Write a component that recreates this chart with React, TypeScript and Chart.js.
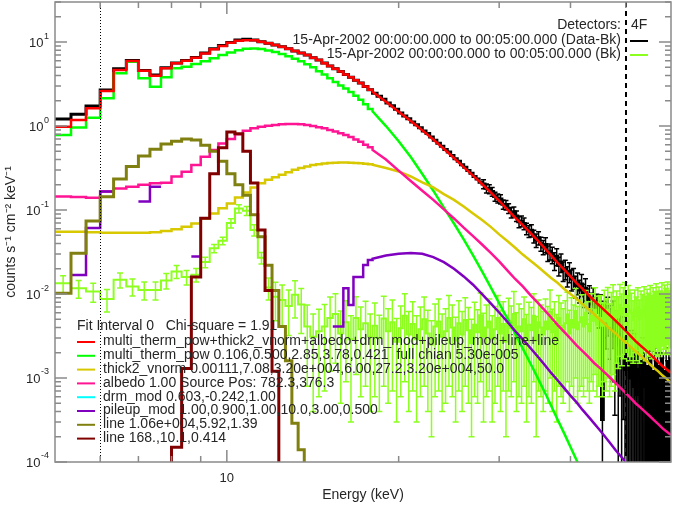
import React, { useEffect, useRef } from 'react';
import { Chart, registerables } from 'chart.js';

Chart.register(...registerables);

const FONT = "'Liberation Sans', Arial, Helvetica, sans-serif";
const TEXT_COLOR = '#262626';
const AXIS_COLOR = '#8a8a8a';

// ---------- axes ----------
const X_RANGE = [5, 60];
const Y_RANGE = [1e-4, 30];
const X_MAJOR_TICKS = [10];
const X_MINOR_TICKS = [6, 7, 8, 9, 20, 30, 40, 50];
const X_TICK_LABELS = ['10'];
const Y_DECADES = [-4, -3, -2, -1, 0, 1];
const FIT_RANGE = [6, 50];

// ---------- energy binning (keV) ----------
const BIN_START = 5;
const BIN_WIDTH = 1 / 3;
const N_BINS = 165;
const DATA_EDGES = Array.from({ length: N_BINS + 1 }, (_, i) => BIN_START + i * BIN_WIDTH);
const MODEL_LOW_EDGES = DATA_EDGES.slice(0, 40); // 5 .. 18 keV, 1/3 keV bins
const MODEL_HIGH_E = [18, 19, 20, 21, 22, 23, 24, 25, 26, 27, 28, 29, 30, 31, 32, 33, 34, 35, 36, 37, 38,
  39, 40, 41, 42, 43, 44, 45, 46, 47, 48, 49, 50, 51, 52, 53, 54, 55, 56, 57, 58, 59, 60];

// ---------- model components: 1/3 keV bins 5-18 keV, then 1 keV points 18-60 keV ----------
const TOTAL_LOW = [0.98, 1.18, 1.63, 2.62, 4.65, 5.96, 4.56, 3.98, 4.88, 5.59, 6.0, 6.5, 7.3, 8.2, 9.0, 9.8,
  10.4, 10.5, 10.5, 10.1, 9.7, 9.2, 8.8, 8.3, 7.85, 7.4, 7.0, 6.5, 6.1, 5.6, 5.2, 4.8, 4.45, 4.1, 3.8, 3.5,
  3.25, 2.95, 2.7];
const TOTAL_HIGH = [2.56, 1.95, 1.48, 1.15, 0.891, 0.692, 0.537, 0.417, 0.324, 0.257, 0.204, 0.162, 0.129,
  0.102, 0.0813, 0.0661, 0.0537, 0.0437, 0.0355, 0.0288, 0.0234, 0.0195, 0.0162, 0.0135, 0.0115, 0.00977,
  0.00832, 0.00724, 0.00631, 0.0055, 0.00479, 0.00417, 0.00363, 0.00316, 0.00275, 0.00245, 0.00219,
  0.00195, 0.00174, 0.00155, 0.00138, 0.00126, 0.00115];

const THERM_LOW = [0.78, 0.96, 1.26, 2.14, 4.25, 5.83, 3.71, 2.94, 3.81, 4.88, 5.09, 5.5, 5.9, 6.4, 7.0, 7.5,
  8.0, 8.3, 8.4, 8.25, 7.95, 7.6, 7.2, 6.8, 6.35, 5.9, 5.45, 5.0, 4.5, 4.1, 3.7, 3.35, 3.05, 2.8, 2.55, 2.3,
  2.05, 1.82, 1.6];
const THERM_HIGH = [1.5, 1.0, 0.661, 0.427, 0.269, 0.17, 0.107, 0.0692, 0.0447, 0.0288, 0.0186, 0.012,
  0.00776, 0.00513, 0.00339, 0.00224, 0.00151, 0.00102, 6.92e-4, 4.68e-4, 3.16e-4, 2.19e-4, 1.51e-4,
  1.05e-4, 7.2e-5, null, null, null, null, null, null, null, null, null, null, null, null, null, null, null,
  null, null, null];

const THICK_LOW = [0.055, 0.055, 0.0543, 0.0537, 0.0537, 0.0537, 0.0537, 0.0543, 0.0562, 0.0589, 0.0631,
  0.0692, 0.0794, 0.0912, 0.105, 0.12, 0.141, 0.162, 0.186, 0.209, 0.229, 0.245, 0.263, 0.282, 0.302,
  0.316, 0.331, 0.343, 0.351, 0.359, 0.363, 0.366, 0.367, 0.367, 0.366, 0.363, 0.36, 0.355, 0.351];
const THICK_HIGH = [0.347, 0.316, 0.288, 0.251, 0.214, 0.186, 0.155, 0.132, 0.11, 0.0912, 0.0759, 0.0631,
  0.0513, 0.0427, 0.0355, 0.0295, 0.0251, 0.0214, 0.0182, 0.0155, 0.0135, 0.0115, 0.01, 0.00871, 0.00759,
  0.00661, 0.00575, 0.00501, 0.00437, 0.0038, 0.00339, 0.00295, 0.00263, 0.00234, 0.00209, 0.00186,
  0.00166, 0.00148, 0.00132, 0.0012, 0.00107, 9.77e-4, 8.71e-4];

const ALBEDO_LOW = [0.145, 0.143, 0.14, 0.166, 0.18, 0.19, 0.2, 0.208, 0.212, 0.25, 0.286, 0.344, 0.43,
  0.52, 0.62, 0.7, 0.8, 0.88, 0.94, 0.98, 1.01, 1.03, 1.05, 1.06, 1.06, 1.05, 1.03, 1.0, 0.97, 0.94, 0.9,
  0.86, 0.82, 0.78, 0.74, 0.69, 0.65, 0.6, 0.56];
const ALBEDO_HIGH = [0.52, 0.4, 0.295, 0.222, 0.17, 0.132, 0.102, 0.0794, 0.0617, 0.049, 0.0389, 0.0309,
  0.0245, 0.0191, 0.0151, 0.0123, 0.00977, 0.00794, 0.00646, 0.00525, 0.00427, 0.00355, 0.00295, 0.00245,
  0.00209, 0.00178, 0.00151, 0.00132, 0.00115, 0.001, 8.71e-4, 7.59e-4, 6.61e-4, 5.75e-4, 5.01e-4,
  4.47e-4, 3.98e-4, 3.55e-4, 3.16e-4, 2.82e-4, 2.51e-4, 2.29e-4, 2.09e-4];

const PILEUP_LOW = [null, 0.0169, 0.061, 0.166, null, null, 0.126, 0.19, null, null, null, 0.028, null, null,
  null, null, null, null, null, null, null, null, null, null, null, null, null, null, null, null, null,
  0.0041, 0.0041, 0.0117, 0.0074, 0.016, 0.016, 0.0222, 0.0255];
const PILEUP_HIGH = [0.0263, 0.0288, 0.0302, 0.0309, 0.0302, 0.0275, 0.024, 0.02, 0.0162, 0.0129, 0.01,
  0.00776, 0.00603, 0.00468, 0.00363, 0.00288, 0.00229, 0.00182, 0.00145, 0.00115, 9.33e-4, 7.59e-4,
  6.17e-4, 5.13e-4, 4.17e-4, 3.47e-4, 2.88e-4, 2.4e-4, 2.0e-4, 1.66e-4, 1.38e-4, 1.17e-4, 1.0e-4, 8.3e-5,
  null, null, null, null, null, null, null, null, null];

const LINE1_LOW = [0.0102, 0.0306, 0.074, 0.144, 0.235, 0.33, 0.44, 0.53, 0.61, 0.66, 0.7, 0.68, 0.59, 0.5,
  0.38, 0.27, 0.2, 0.15, 0.088, 0.048, 0.022, 0.011, 0.0041, 0.0016, 2.9e-4, 1.4e-4, 1e-6, null, null, null,
  null, null, null, null, null, null, null, null, null];
const LINE2_LOW = [null, null, null, null, null, null, null, null, 1e-6, 1.5e-4, 1.3e-3, 0.016, 0.08, 0.27,
  0.55, 0.85, 0.81, 0.5, 0.21, 0.058, 0.011, 1.2e-3, 1e-6, null, null, null, null, null, null, null, null,
  null, null, null, null, null, null, null, null];

// ---------- data (Data-Bk) and background, 1/3 keV bins 5-60 keV ----------
const DATA_VALUES = [1.21, 1.38, 1.73, 2.68, 4.8, 6.05, 4.6, 4.05, 4.95, 5.65, 6.05, 6.55, 7.4, 8.3, 9.1, 9.9,
  10.6, 10.8, 10.6, 10.1, 9.7, 9.2, 8.8, 8.35, 7.85, 7.4, 7.0, 6.5, 6.1, 5.65, 5.2, 4.8, 4.45, 4.1, 3.8,
  3.5, 3.25, 2.95, 2.7,
  2.45, 2.26, 2.09, 1.88, 1.74, 1.58, 1.43, 1.32, 1.22, 1.12, 1.035, 0.955, 0.871, 0.813, 0.741, 0.676,
  0.624, 0.575, 0.525, 0.49, 0.447, 0.407, 0.38, 0.347, 0.324, 0.295, 0.275, 0.251, 0.234, 0.214,
  0.204, 0.182, 0.178, 0.166, 0.145, 0.138, 0.135, 0.117, 0.115, 0.105, 0.0933, 0.0955, 0.0851, 0.0724,
  0.0741, 0.0692, 0.0603, 0.0562, 0.0575, 0.049, 0.0437, 0.0468, 0.0398, 0.0363, 0.0389, 0.0309, 0.0324,
  0.0295, 0.0251, 0.0282, 0.0219, 0.024, 0.0191, 0.02, 0.0166, 0.0186, 0.0151, 0.0158, 0.0126, 0.0138,
  0.0112, 0.0132, 0.01, 0.0117, 0.00871, 0.00955, 0.00759, 0.00891,
  0.00692, 0.00794, 0.00603, 0.00741, 3.2e-4, 0.00562, 0.00501, 0.00617, 0.00447, 0.0038, 0.00525,
  0.00316, 0.00355, 0.00251, 0.00331, 0.002, 0.00282, 0.00126, 0.0024, 0.00141, 0.001, 0.00178, 7.9e-4,
  0.00158, 6.3e-4, 0.00126, 0.001, 5e-4, 0.00141, 7.9e-4, 0.001, 4e-4, 0.00112, 6.3e-4, 8.9e-4, 3.2e-4,
  0.001, 5e-4, 7.9e-4, 4e-4, 0.00112, 6.3e-4, 7.9e-4, 3.2e-4, 0.001, 5e-4, 7.9e-4, 6.3e-4];
const DATA_ERRORS = [null, null, null, null, null, null, null, null, null, null, null, null, null, null,
  null, null, null, null, null, null, null, null, null, null, null, null, null, null, null, null, null, null,
  null, null, null, null, null, null, null,
  null, null, null, null, null, null, null, null, null, null, null, null, null, null, null, null, null, null,
  null, null, null, null, null, null, null, null, null, null, null, null,
  0.025, 0.022, 0.022, 0.02, 0.018, 0.017, 0.017, 0.015, 0.015, 0.014, 0.013, 0.013, 0.012, 0.011, 0.011,
  0.011, 0.0095, 0.009, 0.0095, 0.0085, 0.008, 0.0085, 0.0075, 0.007, 0.0078, 0.0065, 0.007, 0.0065,
  0.006, 0.0065, 0.0055, 0.006, 0.005, 0.0052, 0.0045, 0.005, 0.0042, 0.0044, 0.0037, 0.004, 0.0034,
  0.0039, 0.0031, 0.0035, 0.0028, 0.003, 0.0026, 0.0029,
  0.0018, 0.002, 0.0021, 0.0024, 3e-4, 0.0026, 0.0028, 0.003, 0.0028, 0.0029, 0.003, 0.0028, 0.0027,
  0.0025, 0.0027, 0.0023, 0.0025, 0.0018, 0.0023, 0.0017, 0.0014, 0.0019, 0.0013, 0.0018, 0.0012, 0.0015,
  0.0013, 0.0011, 0.0016, 0.0012, 0.0013, 0.001, 0.0014, 0.0011, 0.0012, 9e-4, 0.0013, 0.0011, 0.0012,
  0.001, 0.0014, 0.0011, 0.0012, 9e-4, 0.0013, 0.0011, 0.0012, 0.0011];

const BK_VALUES = [0.0134, 0.0117, 0.0107, 0.0087, 0.0148, 0.0123, 0.0112, 0.0112, 0.0145, 0.0186, 0.0159,
  0.017, 0.024, 0.035, 0.043, 0.07, 0.104, 0.098, 0.058, 0.027, 0.012,
  0.0093, 0.0085, 0.0072, 0.0098, 0.0075, 0.0041, 0.0031, 0.0036, 0.0041, 0.0052, 0.0058, 0.0034, 0.0046,
  0.0029, 0.0052, 0.0038, 0.0045, 0.0031,
  0.0042, 0.003, 0.0051, 0.0036, 0.0046, 0.0027, 0.0039, 0.0055, 0.0033,
  0.0044, 0.0029, 0.0038, 0.005, 0.0034, 0.0025, 0.0041, 0.0047, 0.0031,
  0.0036, 0.0052, 0.004, 0.0028, 0.0045, 0.0033, 0.0049, 0.0037, 0.0026,
  0.0043, 0.0035, 0.0056, 0.0031, 0.004, 0.0047, 0.0029, 0.0038, 0.0052,
  0.0034, 0.0044, 0.0027, 0.0048, 0.0039, 0.0058, 0.0032, 0.0041, 0.0036,
  0.005, 0.003, 0.0043, 0.0037, 0.0055, 0.0028, 0.0046, 0.004, 0.0033,
  0.0047, 0.0038, 0.0061, 0.0035, 0.0044, 0.003, 0.0052, 0.0042, 0.0036,
  0.0045, 0.0057, 0.0034, 0.0049, 0.004, 0.0063, 0.0038, 0.0046, 0.0053,
  0.0041, 0.006, 0.0044, 0.0036, 0.0055, 0.0048, 0.0065, 0.0043, 0.0051,
  0.0052, 0.0042, 0.006, 0.0047, 0.0065, 0.0041, 0.0056, 0.007, 0.005,
  0.0062, 0.0053, 0.0074, 0.0057, 0.0068, 0.0078, 0.0055, 0.0072, 0.0064,
  0.006, 0.0049, 0.0066, 0.0054, 0.007, 0.005, 0.0064, 0.0058, 0.0072,
  0.0055, 0.0067, 0.006, 0.0074, 0.0057, 0.007, 0.0063, 0.0078, 0.0061,
  0.0071, 0.0064, 0.008, 0.0062, 0.0075, 0.0068, 0.0082, 0.0065, 0.0077];
const BK_ERRORS = [0.0031, 0.0028, 0.0027, 0.0026, 0.003, 0.0028, 0.0027, 0.0027, 0.003, 0.0033, 0.0031,
  0.0031, 0.0035, 0.004, 0.0045, 0.009, 0.012, 0.012, 0.009, 0.0042, 0.0035,
  0.0045, 0.0043, 0.004, 0.0046, 0.0041, 0.0033, 0.0027, 0.003, 0.0034, 0.004, 0.0043, 0.0029, 0.0037,
  0.0026, 0.0041, 0.0032, 0.0037, 0.0027,
  0.0036, 0.0026, 0.0043, 0.0031, 0.0039, 0.0024, 0.0033, 0.0046, 0.0029,
  0.0037, 0.0026, 0.0032, 0.0042, 0.003, 0.0023, 0.0035, 0.004, 0.0027,
  0.0031, 0.0044, 0.0034, 0.0025, 0.0038, 0.0029, 0.0041, 0.0032, 0.0024,
  0.0037, 0.003, 0.0047, 0.0028, 0.0034, 0.004, 0.0026, 0.0033, 0.0044,
  0.003, 0.0037, 0.0025, 0.0041, 0.0033, 0.0049, 0.0028, 0.0035, 0.0031,
  0.0042, 0.0027, 0.0037, 0.0032, 0.0046, 0.0026, 0.0039, 0.0034, 0.0029,
  0.004, 0.0033, 0.0051, 0.0031, 0.0037, 0.0027, 0.0044, 0.0036, 0.0031,
  0.0038, 0.0048, 0.003, 0.0041, 0.0034, 0.0053, 0.0033, 0.0039, 0.0045,
  0.0035, 0.005, 0.0037, 0.0031, 0.0046, 0.0041, 0.0054, 0.0037, 0.0043,
  0.0044, 0.0036, 0.0051, 0.004, 0.0055, 0.0035, 0.0048, 0.0059, 0.0043,
  0.0047, 0.004, 0.0056, 0.0043, 0.0051, 0.0059, 0.0041, 0.0054, 0.0048,
  0.0042, 0.0034, 0.0046, 0.0038, 0.0049, 0.0035, 0.0045, 0.0041, 0.005,
  0.0039, 0.0047, 0.0042, 0.0052, 0.004, 0.0049, 0.0044, 0.0055, 0.0043,
  0.005, 0.0045, 0.0056, 0.0043, 0.0053, 0.0048, 0.0057, 0.0046, 0.0054];

// ---------- legend text ----------
const FIT_TITLE = 'Fit Interval 0   Chi-square = 1.91';
const LEGEND_LABELS = [
  'multi_therm_pow+thick2_vnorm+albedo+drm_mod+pileup_mod+line+line',
  'multi_therm_pow 0.106,0.500,2.85,3.78,0.421  full chian 5.30e-005',
  'thick2_vnorm 0.00111,7.08,3.20e+004,6.00,27.2,3.20e+004,50.0',
  'albedo 1.00 Source Pos: 782.3,376.3',
  'drm_mod 0.603,-0.242,1.00',
  'pileup_mod 1.00,0.900,1.00,10.0,3.00,0.500',
  'line 1.06e+004,5.92,1.39',
  'line 168.,10.1,0.414',
];
const DETECTOR_LABEL = 'Detectors:';
const DETECTOR_VALUE = '4F';
const TIME_LABELS = [
  '15-Apr-2002 00:00:00.000 to 00:05:00.000 (Data-Bk)',
  '15-Apr-2002 00:00:00.000 to 00:05:00.000 (Bk)',
];
const X_TITLE = 'Energy (keV)';
const Y_TITLE = 'counts s\u207B\u00B9 cm\u207B\u00B2 keV\u207B\u00B9';

// ---------- colours ----------
const C_DATA = '#000000';
const C_BK = '#8cff1e';
const C_TOTAL = '#ff0000';
const C_THERM = '#00ff00';
const C_THICK = '#d8c800';
const C_ALBEDO = '#ff1493';
const C_DRM = '#00ffff';
const C_PILEUP = '#8000c0';
const C_LINE1 = '#808010';
const C_LINE2 = '#800000';
const LEGEND_COLORS = [C_TOTAL, C_THERM, C_THICK, C_ALBEDO, C_DRM, C_PILEUP, C_LINE1, C_LINE2];
const TIME_COLORS = [C_DATA, C_BK];

function stepPoints(edges: number[], vals: (number | null)[]) {
  const pts: { x: number; y: number | null }[] = [];
  vals.forEach((v, i) => {
    if (v == null) {
      pts.push({ x: edges[i], y: null });
      return;
    }
    pts.push({ x: edges[i], y: v }, { x: edges[i + 1], y: v });
  });
  return pts;
}

function modelPoints(low: (number | null)[], high: (number | null)[]) {
  return stepPoints(MODEL_LOW_EDGES, low).concat(
    high.map((v, i) => ({ x: MODEL_HIGH_E[i], y: v }))
  );
}

function lineDs(label: string, data: any[], color: string, width: number, extra: any = {}) {
  return {
    label,
    data,
    borderColor: color,
    backgroundColor: color,
    borderWidth: width,
    pointRadius: 0,
    pointHoverRadius: 0,
    fill: false,
    tension: 0,
    spanGaps: false,
    borderJoinStyle: 'miter',
    ...extra,
  };
}

const errorBarPlugin = {
  id: 'errorBars',
  afterDatasetDraw(chart: any, args: any) {
    const ds = chart.data.datasets[args.index];
    const eb = ds && ds.errorBars;
    if (!eb) return;
    const { ctx, chartArea: a } = chart;
    const xs = chart.scales.x;
    const ys = chart.scales.y;
    ctx.save();
    ctx.beginPath();
    ctx.rect(a.left, a.top, a.right - a.left, a.bottom - a.top);
    ctx.clip();
    ctx.strokeStyle = eb.color;
    ctx.lineWidth = eb.width;
    ctx.beginPath();
    eb.values.forEach((v: number | null, i: number) => {
      const e = eb.errors[i];
      if (v == null || e == null) return;
      const xc = xs.getPixelForValue((eb.edges[i] + eb.edges[i + 1]) / 2);
      const yt = ys.getPixelForValue(v + e);
      const lo = v - e;
      const yb = lo > 0 ? ys.getPixelForValue(lo) : a.bottom + 10;
      ctx.moveTo(xc, yb);
      ctx.lineTo(xc, yt);
      ctx.moveTo(xc - eb.cap, yt);
      ctx.lineTo(xc + eb.cap, yt);
      if (lo > 0) {
        ctx.moveTo(xc - eb.cap, yb);
        ctx.lineTo(xc + eb.cap, yb);
      }
    });
    ctx.stroke();
    ctx.restore();
  },
};

const framePlugin = {
  id: 'idlFrame',
  afterDraw(chart: any) {
    const { ctx, chartArea: a } = chart;
    const xs = chart.scales.x;
    const ys = chart.scales.y;
    ctx.save();

    // fit interval markers
    ctx.strokeStyle = '#000';
    ctx.lineWidth = 1;
    ctx.setLineDash([1, 2]);
    let px = Math.round(xs.getPixelForValue(FIT_RANGE[0])) + 0.5;
    ctx.beginPath();
    ctx.moveTo(px, a.top);
    ctx.lineTo(px, a.bottom);
    ctx.stroke();
    ctx.lineWidth = 2;
    ctx.setLineDash([5, 4]);
    px = Math.round(xs.getPixelForValue(FIT_RANGE[1]));
    ctx.beginPath();
    ctx.moveTo(px, a.top);
    ctx.lineTo(px, a.bottom);
    ctx.stroke();
    ctx.setLineDash([]);

    // frame
    ctx.strokeStyle = AXIS_COLOR;
    ctx.lineWidth = 1.5;
    ctx.strokeRect(a.left, a.top, a.right - a.left, a.bottom - a.top);

    // y ticks
    ctx.beginPath();
    Y_DECADES.forEach((d) => {
      for (let m = 1; m <= 9; m++) {
        const v = m * Math.pow(10, d);
        if (v < Y_RANGE[0] * 0.999 || v > Y_RANGE[1] * 1.001) continue;
        const len = m === 1 ? 12 : 6;
        const py = ys.getPixelForValue(v);
        ctx.moveTo(a.left, py);
        ctx.lineTo(a.left + len, py);
        ctx.moveTo(a.right, py);
        ctx.lineTo(a.right - len, py);
      }
    });
    // x ticks
    const xt = (v: number, len: number) => {
      const p = xs.getPixelForValue(v);
      ctx.moveTo(p, a.bottom);
      ctx.lineTo(p, a.bottom - len);
      ctx.moveTo(p, a.top);
      ctx.lineTo(p, a.top + len);
    };
    X_MAJOR_TICKS.forEach((v) => xt(v, 12));
    X_MINOR_TICKS.forEach((v) => xt(v, 6));
    ctx.stroke();

    // y tick labels 10^n
    ctx.fillStyle = TEXT_COLOR;
    ctx.textBaseline = 'middle';
    Y_DECADES.forEach((d) => {
      const py = ys.getPixelForValue(Math.pow(10, d));
      const exp = String(d);
      ctx.font = `9px ${FONT}`;
      const ew = ctx.measureText(exp).width;
      const right = a.left - 6;
      ctx.textAlign = 'left';
      ctx.fillText(exp, right - ew, py - 6);
      ctx.font = `13px ${FONT}`;
      ctx.textAlign = 'right';
      ctx.fillText('10', right - ew - 0.5, py + 1);
    });
    // x tick labels
    ctx.font = `13px ${FONT}`;
    ctx.textAlign = 'center';
    X_MAJOR_TICKS.forEach((v, i) => {
      ctx.fillText(X_TICK_LABELS[i], xs.getPixelForValue(v), a.bottom + 16);
    });

    // fit legend (bottom-left)
    ctx.font = `14px ${FONT}`;
    ctx.textAlign = 'left';
    ctx.fillText(FIT_TITLE, 77, 326);
    LEGEND_LABELS.forEach((t, k) => {
      const y = 341.5 + k * 13.8;
      ctx.strokeStyle = LEGEND_COLORS[k];
      ctx.lineWidth = 2;
      ctx.beginPath();
      ctx.moveTo(77, y + 0.5);
      ctx.lineTo(95, y + 0.5);
      ctx.stroke();
      ctx.fillText(t, 103, y);
    });

    // data legend (top-right)
    ctx.textAlign = 'right';
    ctx.fillText(DETECTOR_LABEL, 621, 25);
    ctx.textAlign = 'left';
    ctx.fillText(DETECTOR_VALUE, 631, 25);
    TIME_LABELS.forEach((t, k) => {
      const y = 40 + k * 14;
      ctx.textAlign = 'right';
      ctx.fillText(t, 621, y);
      ctx.strokeStyle = TIME_COLORS[k];
      ctx.lineWidth = 2;
      ctx.beginPath();
      ctx.moveTo(630, y + 1);
      ctx.lineTo(648, y + 1);
      ctx.stroke();
    });

    ctx.restore();
  },
};

export default function App() {
  const ref = useRef<HTMLCanvasElement | null>(null);
  useEffect(() => {
    if (!ref.current) return;
    const datasets: any[] = [
      lineDs('Data-Bk', stepPoints(DATA_EDGES, DATA_VALUES), C_DATA, 3, {
        errorBars: { edges: DATA_EDGES, values: DATA_VALUES, errors: DATA_ERRORS, color: C_DATA, width: 1.5, cap: 2.5 },
      }),
      lineDs('Bk', stepPoints(DATA_EDGES, BK_VALUES), C_BK, 2, {
        errorBars: { edges: DATA_EDGES, values: BK_VALUES, errors: BK_ERRORS, color: C_BK, width: 1.5, cap: 3 },
      }),
      lineDs('multi_therm_pow', modelPoints(THERM_LOW, THERM_HIGH), C_THERM, 2.5),
      lineDs('thick2_vnorm', modelPoints(THICK_LOW, THICK_HIGH), C_THICK, 2.5),
      lineDs('albedo', modelPoints(ALBEDO_LOW, ALBEDO_HIGH), C_ALBEDO, 2.5),
      lineDs('pileup_mod', modelPoints(PILEUP_LOW, PILEUP_HIGH), C_PILEUP, 2.5),
      lineDs('line 1', stepPoints(MODEL_LOW_EDGES, LINE1_LOW), C_LINE1, 3),
      lineDs('line 2', stepPoints(MODEL_LOW_EDGES, LINE2_LOW), C_LINE2, 3),
      lineDs('total', modelPoints(TOTAL_LOW, TOTAL_HIGH), C_TOTAL, 2.5),
    ];
    datasets.forEach((d, i) => { d.order = -i; });

    const chart = new Chart(ref.current, {
      type: 'line',
      data: { datasets },
      options: {
        animation: false,
        responsive: false,
        devicePixelRatio: 1,
        events: [],
        layout: { padding: { top: 2, right: 2, left: 0, bottom: 0 } },
        plugins: { legend: { display: false }, tooltip: { enabled: false }, title: { display: false } },
        scales: {
          x: {
            type: 'logarithmic',
            min: X_RANGE[0],
            max: X_RANGE[1],
            grid: { display: false, drawTicks: false },
            border: { display: false },
            ticks: { display: false },
            title: {
              display: true,
              text: X_TITLE,
              color: TEXT_COLOR,
              font: { family: FONT, size: 14 },
              padding: { top: 0, bottom: 1 },
            },
            afterFit: (s: any) => { s.height = 43; },
          },
          y: {
            type: 'logarithmic',
            min: Y_RANGE[0],
            max: Y_RANGE[1],
            grid: { display: false, drawTicks: false },
            border: { display: false },
            ticks: { display: false },
            title: {
              display: true,
              text: Y_TITLE,
              color: TEXT_COLOR,
              font: { family: FONT, size: 14 },
              padding: { top: 3, bottom: 0 },
            },
            afterFit: (s: any) => { s.width = 55; },
          },
        },
      } as any,
      plugins: [errorBarPlugin, framePlugin],
    });
    return () => chart.destroy();
  }, []);

  return (
    <div style={{ position: 'fixed', left: 0, top: 0, width: 673, height: 505, background: '#fff' }}>
      <canvas ref={ref} width={673} height={505} style={{ width: 673, height: 505, display: 'block' }} />
    </div>
  );
}
